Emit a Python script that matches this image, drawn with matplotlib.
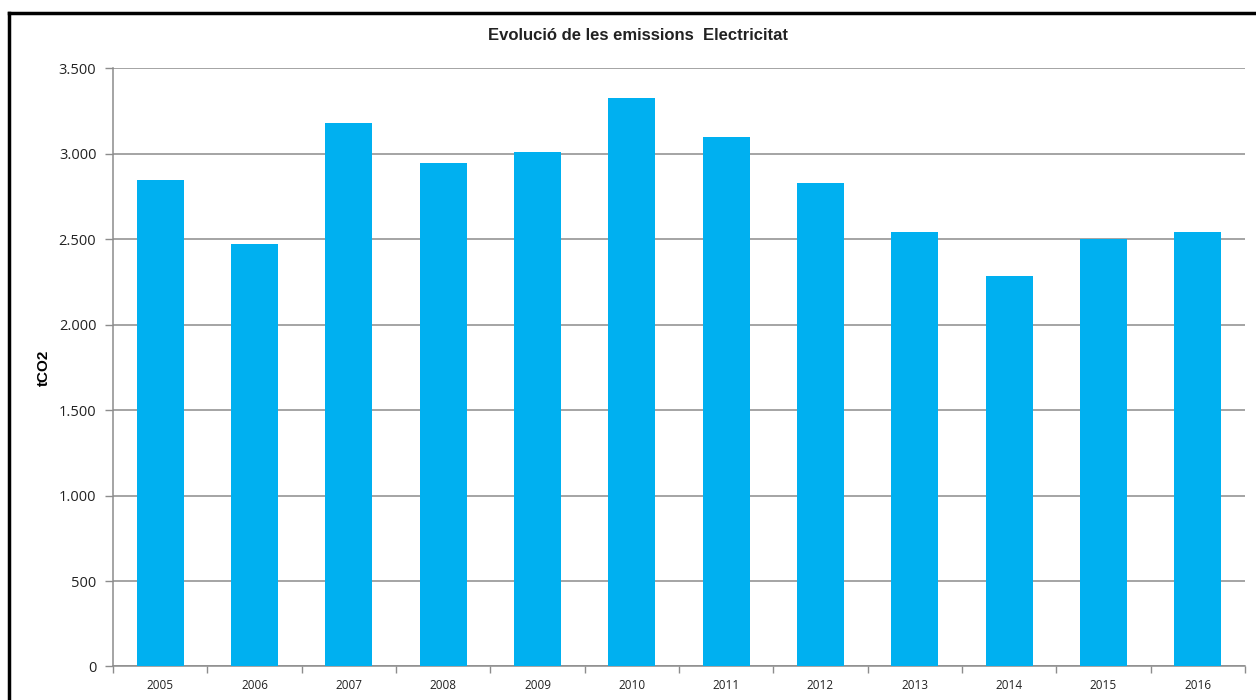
import matplotlib
matplotlib.use("Agg")
import matplotlib.pyplot as plt
from matplotlib.lines import Line2D
from matplotlib.ticker import FuncFormatter
import numpy as np

years = ["2005", "2006", "2007", "2008", "2009", "2010",
         "2011", "2012", "2013", "2014", "2015", "2016"]
emissions = [2845, 2475, 3180, 2944, 3012, 3330,
             3096, 2829, 2544, 2286, 2501, 2544]
title = "Evolució de les emissions  Electricitat"
ylabel = "tCO2"
yticks = [0, 500, 1000, 1500, 2000, 2500, 3000, 3500]

fig = plt.figure(figsize=(12.56, 7.0), dpi=100)
ax = fig.add_axes([0.0900, 0.0479, 0.9012, 0.8543])

x = np.arange(len(years))
ax.bar(x, emissions, width=0.5, color="#00B0F0", zorder=3)

ax.set_xlim(-0.5, len(years) - 0.5)
ax.set_ylim(0, 3500)
ax.set_yticks(yticks)
ax.yaxis.set_major_formatter(FuncFormatter(lambda v, p: f"{int(v):,}".replace(",", ".")))
ax.grid(axis="y", color="#8c8c8c", linewidth=1.1, zorder=0)

ax.set_xticks(x)
ax.set_xticklabels(years)
ax.set_xticks(np.arange(len(years) + 1) - 0.5, minor=True)
ax.tick_params(axis="x", which="major", length=0, pad=9, labelsize=8.5, colors="#222222")
ax.tick_params(axis="x", which="minor", length=5, width=1, color="#8c8c8c")
ax.tick_params(axis="y", length=6, width=1, color="#8c8c8c", pad=6, labelsize=10.5,
               labelcolor="#222222")
for lab in ax.get_xticklabels() + ax.get_yticklabels():
    lab.set_fontfamily("Open Sans")

for s in ["top", "right"]:
    ax.spines[s].set_visible(False)
for s in ["left", "bottom"]:
    ax.spines[s].set_color("#8c8c8c")
    ax.spines[s].set_linewidth(1.1)

ax.set_ylabel(ylabel, fontsize=11, fontweight="bold", family="Liberation Sans")
ax.yaxis.set_label_coords(-0.055, 0.5)

fig.text(0.5076, 0.949, title, ha="center", va="center", fontsize=12,
         fontweight="bold", family="Liberation Sans", color="#222222")

# outer frame (left and top black lines)
fig.add_artist(Line2D([9 / 1256, 9 / 1256], [0, 1 - 13 / 700], color="black", linewidth=2.5,
                      transform=fig.transFigure))
fig.add_artist(Line2D([9 / 1256, 1], [1 - 13 / 700, 1 - 13 / 700], color="black", linewidth=2.5,
                      transform=fig.transFigure))

fig.savefig("out.png", dpi=100)
